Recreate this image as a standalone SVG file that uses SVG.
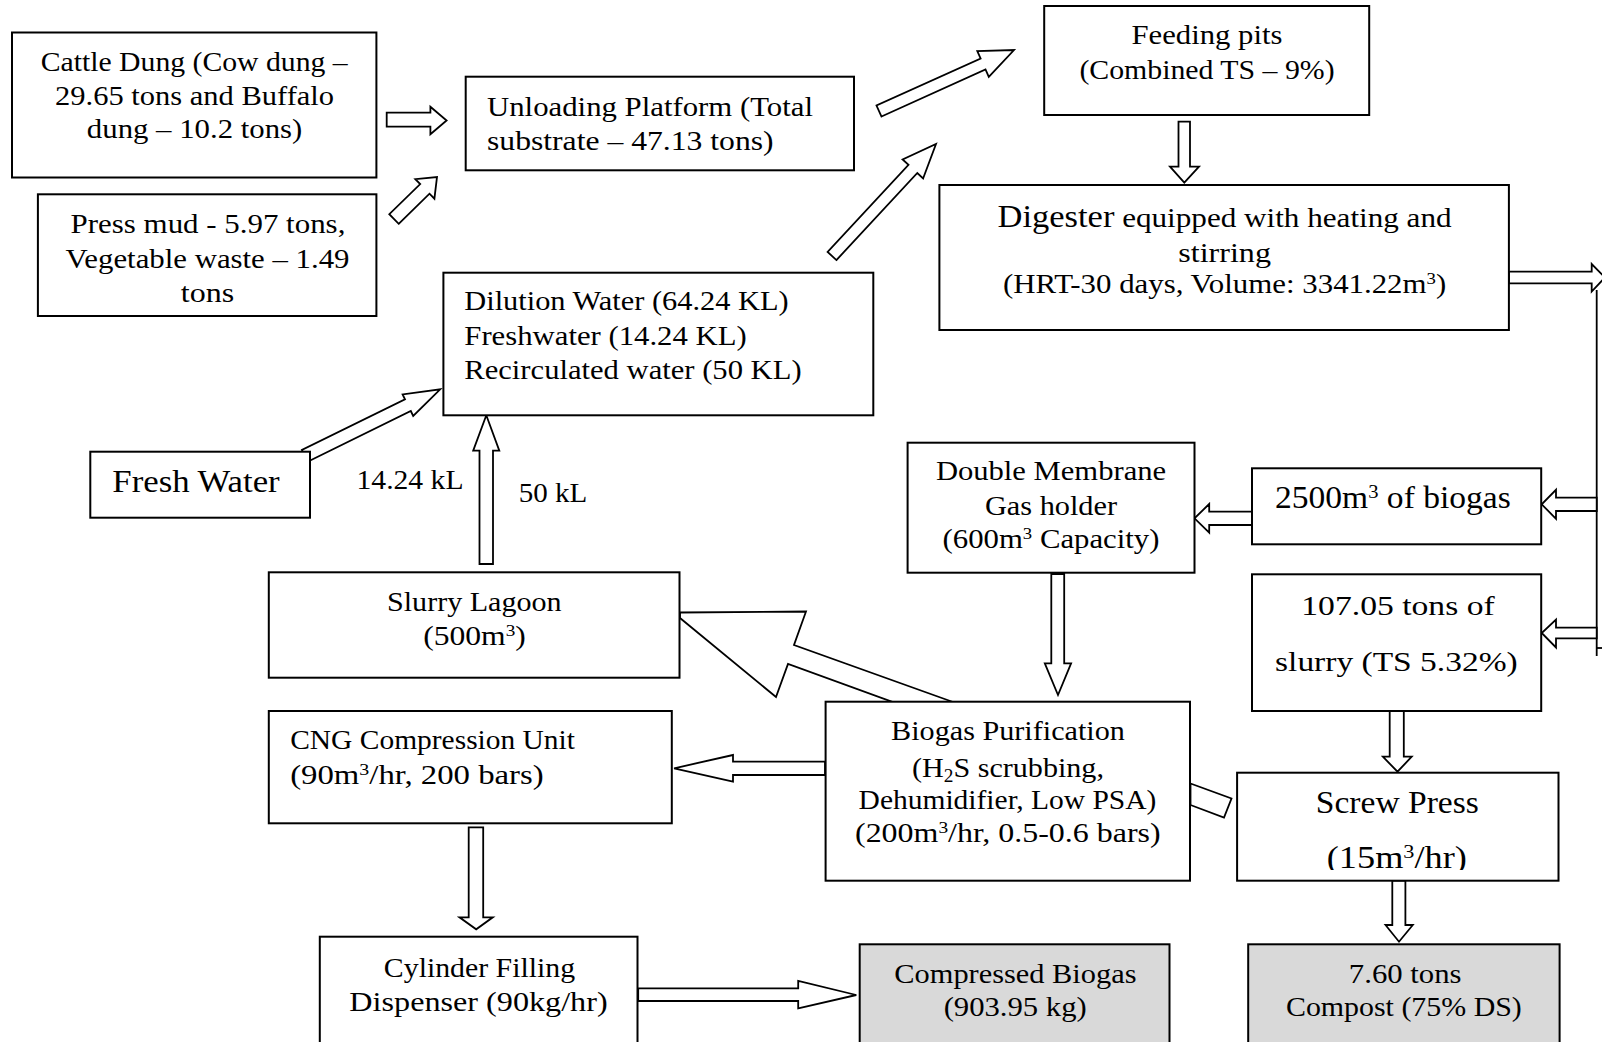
<svg xmlns="http://www.w3.org/2000/svg" width="1602" height="1042" viewBox="0 0 1602 1042">
<style>
.box{fill:#fff;stroke:#000;stroke-width:2}
.gray{fill:#d9d9d9;stroke:#000;stroke-width:2}
.arr{fill:#fff;stroke:#000;stroke-width:1.8;stroke-linejoin:miter}
.ln{fill:none;stroke:#000;stroke-width:1.8}
text{font-family:"Liberation Serif","Times New Roman",serif;font-size:28px;fill:#000}
.c{text-anchor:middle}
.big{font-size:31px}
.sup{font-size:17px}
</style>
<defs>
<clipPath id="clipScrew"><rect x="1230" y="770" width="340" height="100"/></clipPath>
</defs>
<rect width="1602" height="1042" fill="#fff"/>

<g id="connectors">
  <polygon class="arr" points="386.7,112.7 430.4,112.7 430.4,106.7 446.6,120.5 430.4,134.3 430.4,126.7 386.7,126.7"/>
  <polygon class="arr" points="398.7,223.8 429.5,193.7 434.4,198.7 437,177 415.3,179.1 420.2,184.1 389.3,214.2"/>
  <polygon class="arr" points="881.5,116.5 985.5,69.5 988.8,76.8 1014,50 977.3,51.2 980.6,58.5 876.5,105.5"/>
  <polygon class="arr" points="836.4,260.1 917.3,173 923.1,178.5 936,144 902.6,159.4 908.5,164.8 827.6,251.9"/>
  <polygon class="arr" points="1178.5,121.7 1190,121.7 1190,166.7 1199,166.7 1184.3,182.7 1170,166.7 1178.5,166.7"/>
  <polygon class="arr" points="1509,271.7 1591.7,271.7 1591.7,264 1605,277.5 1591.7,291.5 1591.7,283.3 1509,283.3"/>
  <line class="ln" x1="1596.7" y1="290" x2="1596.7" y2="656"/>
  <line class="ln" x1="1596.7" y1="648" x2="1602" y2="648"/>
  <polygon class="arr" points="1596.7,497.7 1556,497.7 1556,489.8 1541.7,504.3 1556,518.8 1556,511 1596.7,511"/>
  <polygon class="arr" points="1596.7,627.7 1556,627.7 1556,619.5 1541.7,633 1556,647.5 1556,638.3 1596.7,638.3"/>
  <polygon class="arr" points="1252,511.7 1209.2,511.7 1209.2,504 1194.5,518.3 1209.2,532.7 1209.2,525 1252,525"/>
  <polygon class="arr" points="1051.3,574 1064.2,574 1064.2,663.3 1071.1,663.3 1058,695 1044.8,663.3 1051.3,663.3"/>
  <polygon class="arr" points="1389.7,711 1403.8,711 1403.8,756.7 1411.7,756.7 1397.5,771.7 1382.9,756.7 1389.7,756.7"/>
  <polygon class="arr" points="1392.3,880.7 1405.4,880.7 1405.4,925 1412.8,925 1399,941.7 1385.5,925 1392.3,925"/>
  <polygon class="arr" points="1190.5,783.5 1231.5,798.5 1224,817.5 1190.5,805"/>
  <polygon class="arr" points="680,612.5 806,611.5 794,645 953,702 893,702 788,664 776,697 680,618"/>
  <polygon class="arr" points="825,761.7 733,761.7 733,755 674.1,768.3 733,781.7 733,775 825,775"/>
  <polygon class="arr" points="468.7,827.3 483.2,827.3 483.2,917.3 492.8,917.3 476.2,929.3 459.5,917.3 468.7,917.3"/>
  <polygon class="arr" points="638.2,988.3 798.2,988.3 798.2,981 856.3,995 798.2,1008.3 798.2,1001 638.2,1001"/>
  <polygon class="arr" points="479.5,564 493,564 493,450.7 499.3,450.7 486.3,415.3 473.2,450.7 479.5,450.7"/>
  <polygon class="arr" points="307.6,461.7 410.8,411 413.2,416 440.2,389.3 402.6,394.4 405,399.4 301.9,450"/>
  <text x="356.5" y="489.3" textLength="107" lengthAdjust="spacingAndGlyphs">14.24 kL</text>
  <text x="518.7" y="502.3" textLength="68.5" lengthAdjust="spacingAndGlyphs">50 kL</text>
</g>

<g id="cattle">
  <rect class="box" x="12" y="32.5" width="364.4" height="145"/>
  <text class="c" x="194.2" y="71" textLength="307" lengthAdjust="spacingAndGlyphs">Cattle Dung (Cow dung –</text>
  <text class="c" x="194.6" y="104.5" textLength="279" lengthAdjust="spacingAndGlyphs">29.65 tons and Buffalo</text>
  <text class="c" x="194.6" y="138" textLength="215.5" lengthAdjust="spacingAndGlyphs">dung – 10.2 tons)</text>
</g>

<g id="pressmud">
  <rect class="box" x="37.9" y="194.3" width="338.5" height="121.7"/>
  <text class="c" x="208" y="233" textLength="274.8" lengthAdjust="spacingAndGlyphs">Press mud - 5.97 tons,</text>
  <text class="c" x="207.5" y="267.5" textLength="284" lengthAdjust="spacingAndGlyphs">Vegetable waste – 1.49</text>
  <text class="c" x="207.5" y="301.5" textLength="53.4" lengthAdjust="spacingAndGlyphs">tons</text>
</g>

<g id="unloading">
  <rect class="box" x="465.7" y="76.7" width="388.3" height="93.6"/>
  <text x="487" y="116" textLength="326" lengthAdjust="spacingAndGlyphs">Unloading Platform (Total</text>
  <text x="487" y="149.5" textLength="286.6" lengthAdjust="spacingAndGlyphs">substrate – 47.13 tons)</text>
</g>

<g id="feeding">
  <rect class="box" x="1044.2" y="6" width="325" height="109"/>
  <text class="c" x="1207" y="44.3" textLength="150.9" lengthAdjust="spacingAndGlyphs">Feeding pits</text>
  <text class="c" x="1207" y="79.3" textLength="255.2" lengthAdjust="spacingAndGlyphs">(Combined TS – 9%)</text>
</g>

<g id="digester">
  <rect class="box" x="939.4" y="185" width="569.5" height="145"/>
  <text class="c" x="1224.6" y="226.7" textLength="454" lengthAdjust="spacingAndGlyphs"><tspan font-size="31">Digester</tspan> equipped with heating and</text>
  <text class="c" x="1224.6" y="261.7" textLength="92.7" lengthAdjust="spacingAndGlyphs">stirring</text>
  <text class="c" x="1224.6" y="293.3" textLength="443.2" lengthAdjust="spacingAndGlyphs">(HRT-30 days, Volume: 3341.22m<tspan class="sup" dy="-9">3</tspan><tspan dy="9">)</tspan></text>
</g>

<g id="dilution">
  <rect class="box" x="443.4" y="272.7" width="429.9" height="142.6"/>
  <text x="464.3" y="310" textLength="324.3" lengthAdjust="spacingAndGlyphs">Dilution Water (64.24 KL)</text>
  <text x="464.3" y="344.5" textLength="282.4" lengthAdjust="spacingAndGlyphs">Freshwater (14.24 KL)</text>
  <text x="464.3" y="379" textLength="337.3" lengthAdjust="spacingAndGlyphs">Recirculated water (50 KL)</text>
</g>

<g id="freshwater">
  <rect class="box" x="90.3" y="451.7" width="219.7" height="66"/>
  <text class="big" x="112.3" y="492.3" textLength="167.4" lengthAdjust="spacingAndGlyphs">Fresh Water</text>
</g>

<g id="gasholder">
  <rect class="box" x="907.6" y="442.7" width="286.9" height="130"/>
  <text class="c" x="1051" y="480" textLength="230.2" lengthAdjust="spacingAndGlyphs">Double Membrane</text>
  <text class="c" x="1051" y="515" textLength="132.2" lengthAdjust="spacingAndGlyphs">Gas holder</text>
  <text class="c" x="1051" y="548.3" textLength="216.9" lengthAdjust="spacingAndGlyphs">(600m<tspan class="sup" dy="-9">3</tspan><tspan dy="9"> Capacity)</tspan></text>
</g>

<g id="biogas2500">
  <rect class="box" x="1252" y="468.3" width="289.2" height="76"/>
  <text class="big" x="1275" y="508.3" textLength="235.8" lengthAdjust="spacingAndGlyphs">2500m<tspan font-size="19" dy="-10">3</tspan><tspan dy="10"> of biogas</tspan></text>
</g>

<g id="slurry">
  <rect class="box" x="1252" y="574.3" width="289.2" height="136.7"/>
  <text class="c" x="1398" y="615" font-size="30" textLength="193.4" lengthAdjust="spacingAndGlyphs">107.05 tons of</text>
  <text class="c" x="1396.4" y="670.7" font-size="30" textLength="242.7" lengthAdjust="spacingAndGlyphs">slurry (TS 5.32%)</text>
</g>

<g id="lagoon">
  <rect class="box" x="268.8" y="572.3" width="410.7" height="105.4"/>
  <text class="c" x="474.3" y="610.7" textLength="174.6" lengthAdjust="spacingAndGlyphs">Slurry Lagoon</text>
  <text class="c" x="474.5" y="645" textLength="102.7" lengthAdjust="spacingAndGlyphs">(500m<tspan class="sup" dy="-9">3</tspan><tspan dy="9">)</tspan></text>
</g>

<g id="cng">
  <rect class="box" x="268.8" y="711" width="403" height="112.3"/>
  <text x="290.2" y="749.3" textLength="284.8" lengthAdjust="spacingAndGlyphs">CNG Compression Unit</text>
  <text x="290.2" y="784" textLength="253.5" lengthAdjust="spacingAndGlyphs">(90m<tspan class="sup" dy="-9">3</tspan><tspan dy="9">/hr, 200 bars)</tspan></text>
</g>

<g id="purification">
  <rect class="box" x="825.6" y="701.7" width="364.4" height="179"/>
  <text class="c" x="1008" y="740" textLength="233.8" lengthAdjust="spacingAndGlyphs">Biogas Purification</text>
  <text class="c" x="1008" y="776.7" textLength="191.9" lengthAdjust="spacingAndGlyphs">(H<tspan font-size="18" dy="5">2</tspan><tspan dy="-5">S scrubbing,</tspan></text>
  <text class="c" x="1007.5" y="809.3" textLength="297.8" lengthAdjust="spacingAndGlyphs">Dehumidifier, Low PSA)</text>
  <text class="c" x="1007.8" y="841.7" textLength="305.6" lengthAdjust="spacingAndGlyphs">(200m<tspan class="sup" dy="-9">3</tspan><tspan dy="9">/hr, 0.5-0.6 bars)</tspan></text>
</g>

<g id="screwpress">
  <rect class="box" x="1237.1" y="772.7" width="321.4" height="108"/>
  <text class="c big" x="1397.3" y="812.7" textLength="163" lengthAdjust="spacingAndGlyphs">Screw Press</text>
  <text class="c big" x="1396.8" y="868.3" clip-path="url(#clipScrew)" textLength="140" lengthAdjust="spacingAndGlyphs">(15m<tspan font-size="19" dy="-10">3</tspan><tspan dy="10">/hr)</tspan></text>
</g>

<g id="cylinder">
  <rect class="box" x="319.8" y="936.7" width="317.7" height="120"/>
  <text class="c" x="479.5" y="976.7" textLength="191.3" lengthAdjust="spacingAndGlyphs">Cylinder Filling</text>
  <text class="c" x="478.5" y="1010.7" textLength="258.3" lengthAdjust="spacingAndGlyphs">Dispenser (90kg/hr)</text>
</g>

<g id="compressedbiogas">
  <rect class="gray" x="859.7" y="944.3" width="309.8" height="120"/>
  <text class="c" x="1015.4" y="982.7" textLength="242.2" lengthAdjust="spacingAndGlyphs">Compressed Biogas</text>
  <text class="c" x="1015.2" y="1016" textLength="143.1" lengthAdjust="spacingAndGlyphs">(903.95 kg)</text>
</g>

<g id="compost">
  <rect class="gray" x="1248.2" y="944.3" width="311.4" height="120"/>
  <text class="c" x="1405.2" y="982.7" textLength="112.7" lengthAdjust="spacingAndGlyphs">7.60 tons</text>
  <text class="c" x="1403.9" y="1016" textLength="235.9" lengthAdjust="spacingAndGlyphs">Compost (75% DS)</text>
</g>
</svg>
